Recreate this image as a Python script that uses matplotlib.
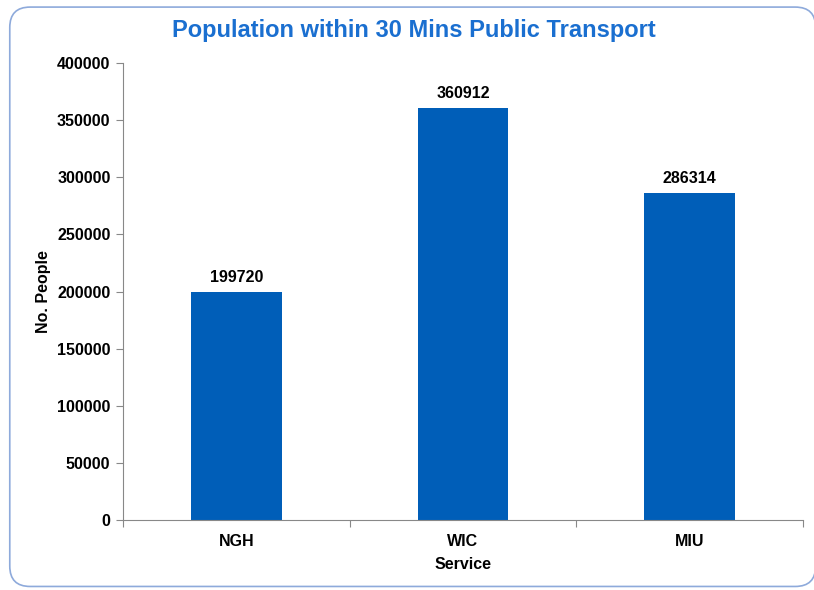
import matplotlib.pyplot as plt
from matplotlib.patches import FancyBboxPatch

plt.rcParams['font.family'] = ['Liberation Sans', 'DejaVu Sans']

services = ['NGH', 'WIC', 'MIU']
people = [199720, 360912, 286314]
yticks = [0, 50000, 100000, 150000, 200000, 250000, 300000, 350000, 400000]

fig = plt.figure(figsize=(8.14, 5.90), dpi=100)

# rounded frame round the whole chart, kept behind the axes
frame = FancyBboxPatch((0.012, 0.006), 0.99, 0.982, boxstyle='round,pad=0,rounding_size=0.025',
                       transform=fig.transFigure, facecolor='white', edgecolor='#8eaadb',
                       linewidth=1.2, zorder=-1, mutation_aspect=814/590)
fig.patches.append(frame)

fs = 11.5
ax = fig.add_axes([0.1511, 0.1186, 0.8354, 0.7746])
ax.set_facecolor('none')
x = range(len(services))
bars = ax.bar(x, people, width=0.4, color='#005eb8')
for b, v in zip(bars, people):
    ax.text(b.get_x() + b.get_width() / 2, v + 6000, str(v), ha='center', va='bottom',
            fontsize=fs, fontweight='bold')

ax.set_xlim(-0.5, 2.5)
ax.set_ylim(0, 400000)
ax.set_yticks(yticks)
ax.set_yticklabels([str(t) for t in yticks], fontsize=fs, fontweight='bold')
# ticks between categories, labels in the middle
ax.set_xticks([-0.5, 0.5, 1.5, 2.5])
ax.set_xticklabels([])
ax.set_xticks(list(x), minor=True)
ax.set_xticklabels(services, minor=True, fontsize=fs, fontweight='bold')
ax.tick_params(axis='x', which='minor', length=0, pad=10)
ax.tick_params(axis='x', which='major', length=5, color='#888888')
ax.tick_params(axis='y', length=5, color='#888888', pad=4)

for s in ['top', 'right']:
    ax.spines[s].set_visible(False)
for s in ['left', 'bottom']:
    ax.spines[s].set_color('#888888')

ax.set_xlabel('Service', fontsize=fs, fontweight='bold', labelpad=6)
ax.set_ylabel('No. People', fontsize=fs, fontweight='bold', labelpad=4)
fig.text(0.509, 0.949, 'Population within 30 Mins Public Transport', ha='center', va='center',
         fontsize=17, fontweight='bold', color='#1a6fd0')

fig.savefig('out.png', dpi=100)
